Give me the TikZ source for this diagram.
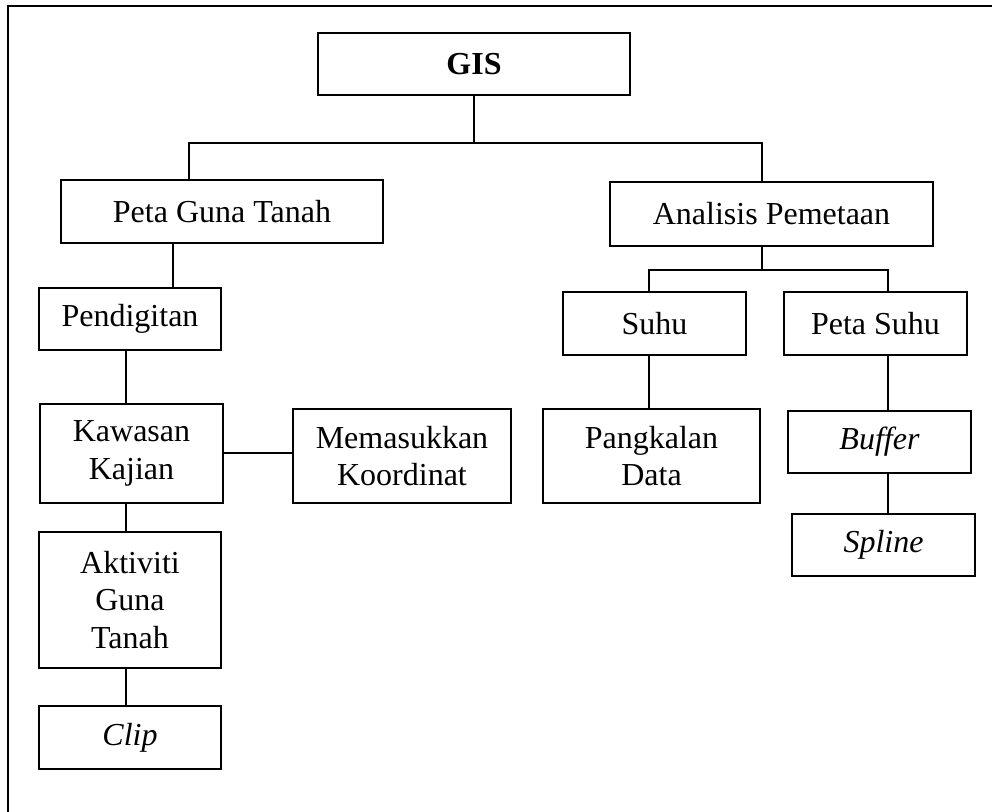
\documentclass[tikz,border=0pt]{standalone}
\usepackage{fontspec}
\setmainfont{Liberation Serif}
\usepackage{tikz}

\tikzset{
  kotak/.style={draw, line width=1.4pt, inner sep=0pt, align=center,
    font=\fontsize{24}{28.2}\selectfont},
  garis/.style={line width=1.4pt}
}

\begin{document}
\begin{tikzpicture}[x=0.75pt, y=-0.75pt]
    \useasboundingbox (0,0) rectangle (992,812);
    \draw[garis] (8,812) -- (8,6) -- (992,6);

    \node[kotak, minimum width=234pt, minimum height=46.5pt] (gis) at (474,64) {\textbf{GIS}};
    \node[kotak, minimum width=241.5pt, minimum height=47.25pt] (peta) at (222,211.5) {Peta Guna Tanah};
    \node[kotak, minimum width=242.25pt, minimum height=48pt] (analisis) at (771.5,214) {Analisis Pemetaan};
    \node[kotak, minimum width=136.5pt, minimum height=46.5pt] (pendigitan) at (130,319) {Pendigitan};
    \node[kotak, minimum width=137.25pt, minimum height=74.25pt] (kawasan) at (131.5,453.5) {Kawasan\\Kajian};
    \node[kotak, minimum width=163.5pt, minimum height=70.5pt] (koordinat) at (402,456) {Memasukkan\\Koordinat};
    \node[kotak, minimum width=136.5pt, minimum height=102pt] (aktiviti) at (130,600) {Aktiviti\\Guna\\Tanah};
    \node[kotak, minimum width=136.5pt, minimum height=47.25pt] (clip) at (130,737.5) {\textit{Clip}};
    \node[kotak, minimum width=137.25pt, minimum height=47.25pt] (suhu) at (654.5,323.5) {Suhu};
    \node[kotak, minimum width=137.25pt, minimum height=47.25pt] (petasuhu) at (875.5,323.5) {Peta Suhu};
    \node[kotak, minimum width=162.75pt, minimum height=70.5pt] (pangkalan) at (651.5,456) {Pangkalan\\Data};
    \node[kotak, minimum width=137.25pt, minimum height=46.5pt] (buffer) at (879.5,442) {\textit{Buffer}};
    \node[kotak, minimum width=137.25pt, minimum height=46.5pt] (spline) at (883.5,545) {\textit{Spline}};

    % cabang GIS
    \coordinate (gkiri) at (189,143);
    \coordinate (gkanan) at (762,143);
    \draw[garis] (gis.south) -- (gis.south |- gkiri);
    \draw[garis] (gkiri |- peta.north) -- (gkiri) -- (gkanan) -- (gkanan |- analisis.north);

    % cabang kiri
    \coordinate (pkiri) at (173,0);
    \coordinate (kkiri) at (126,0);
    \coordinate (ktengah) at (0,453);
    \draw[garis] (pkiri |- peta.south) -- (pkiri |- pendigitan.north);
    \draw[garis] (kkiri |- pendigitan.south) -- (kkiri |- kawasan.north);
    \draw[garis] (kawasan.east |- ktengah) -- (koordinat.west |- ktengah);
    \draw[garis] (kkiri |- kawasan.south) -- (kkiri |- aktiviti.north);
    \draw[garis] (kkiri |- aktiviti.south) -- (kkiri |- clip.north);

    % cabang kanan
    \coordinate (atengah) at (762,270);
    \coordinate (akiri) at (649,270);
    \coordinate (akanan) at (888,270);
    \draw[garis] (atengah |- analisis.south) -- (atengah);
    \draw[garis] (akiri |- suhu.north) -- (akiri) -- (akanan) -- (akanan |- petasuhu.north);
    \draw[garis] (akiri |- suhu.south) -- (akiri |- pangkalan.north);
    \draw[garis] (akanan |- petasuhu.south) -- (akanan |- buffer.north);
    \draw[garis] (akanan |- buffer.south) -- (akanan |- spline.north);
\end{tikzpicture}
\end{document}
